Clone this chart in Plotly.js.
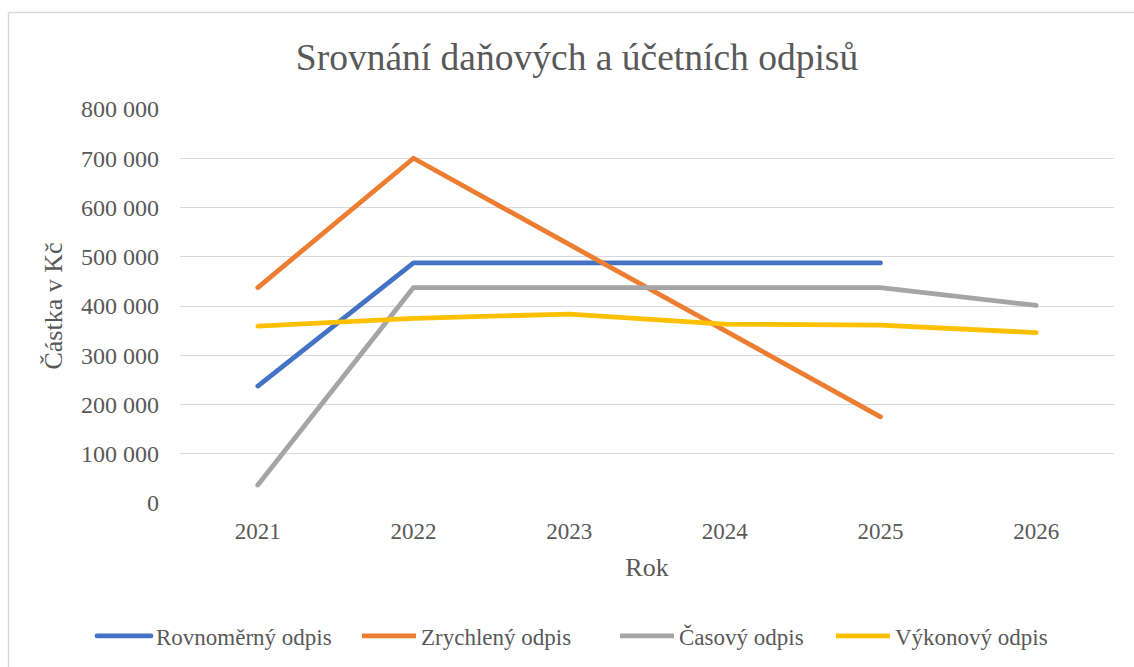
<!DOCTYPE html>
<html>
<head>
<meta charset="utf-8">
<script src="https://cdn.plot.ly/plotly-3.0.1.min.js"></script>
<style>
html,body{margin:0;padding:0;background:#fff;font-family:"Liberation Serif";}
#chart{width:1134px;height:667px;}
#chart .scatterlayer path.js-line, #chart .legend path.js-line{stroke-linecap:round !important;stroke-linejoin:round !important;}
</style>
</head>
<body>
<div id="chart"></div>
<script>
const years = ["2021", "2022", "2023", "2024", "2025", "2026"];
const rovnomerny = [237500, 487500, 487500, 487500, 487500, null];
const zrychleny = [437500, 700000, 525000, 350000, 175000, null];
const casovy = [36458, 437500, 437500, 437500, 437500, 401042];
const vykonovy = [359000, 375000, 383500, 363000, 361000, 346000];
const seriesNames = ["Rovnoměrný odpis", "Zrychlený odpis", "Časový odpis", "Výkonový odpis"];
const yTickVals = [0, 100000, 200000, 300000, 400000, 500000, 600000, 700000, 800000];
const yTickText = ["0", "100 000", "200 000", "300 000", "400 000", "500 000", "600 000", "700 000", "800 000"];

const colors = ["#4472C4", "#ED7D31", "#A5A5A5", "#FFC000"];
const allSeries = [rovnomerny, zrychleny, casovy, vykonovy];
const FONT = "Liberation Serif";
const TXT = "#595959";
const legendIds = ["legend", "legend2", "legend3", "legend4"];
const legendLeft = [98, 363, 621, 837];

function draw() {
  const traces = allSeries.map((s, i) => ({
    x: years, y: s, name: seriesNames[i], type: "scatter", mode: "lines",
    line: {color: colors[i], width: 4.8}, connectgaps: false, legend: legendIds[i]
  }));

  const L = 180, R = 1114, T = 109, B = 503;
  const pw = R - L, ph = B - T;

  const layout = {
    width: 1134, height: 667,
    margin: {l: L, r: 1134 - R, t: T, b: 667 - B},
    paper_bgcolor: "#fff", plot_bgcolor: "#fff",
    font: {family: FONT, color: TXT, size: 24},
    title: {text: "Srovnání daňových a účetních odpisů", font: {family: FONT, size: 37.5, color: TXT},
      xref: "container", x: 577/1134, xanchor: "center", yref: "container", y: 1 - 57/667, yanchor: "middle"},
    xaxis: {type: "category", range: [-0.5, 5.5], showgrid: false, zeroline: false, showline: false,
      ticks: "", tickfont: {size: 23, color: TXT, family: FONT}, ticklabelstandoff: 12,
      title: {text: "Rok", font: {size: 26, color: TXT, family: FONT}, standoff: 14}, fixedrange: true},
    yaxis: {range: [0, 800000], tickvals: yTickVals, ticktext: yTickText, showgrid: true,
      gridcolor: "#d9d9d9", gridwidth: 1.3, zeroline: false, showline: false, ticks: "",
      tickfont: {size: 24, color: TXT, family: FONT}, ticklabelstandoff: 20,
      title: {text: "Částka v Kč", font: {size: 26, color: TXT, family: FONT}, standoff: 10}, fixedrange: true},
    showlegend: true,
    shapes: [{type: "line", xref: "paper", yref: "paper", x0: (8.5 - L)/pw, x1: (1140 - L)/pw,
        y0: (B - 12.5)/ph, y1: (B - 12.5)/ph, line: {color: "#d9d9d9", width: 1.5}},
      {type: "line", xref: "paper", yref: "paper", x0: (8.5 - L)/pw, x1: (8.5 - L)/pw,
        y0: (B - 12.5)/ph, y1: (B - 680)/ph, line: {color: "#d9d9d9", width: 1.5}}]
  };

  legendIds.forEach((id, i) => {
    layout[id] = {orientation: "h", xref: "container", yref: "container",
      x: (legendLeft[i] - 6)/1134, xanchor: "left", y: 1 - 636/667, yanchor: "middle",
      font: {size: 23, color: TXT, family: FONT}, itemwidth: 54, bgcolor: "rgba(0,0,0,0)"};
  });

  Plotly.newPlot("chart", traces, layout, {displayModeBar: false});
}

if (document.fonts && document.fonts.load) {
  document.fonts.load('24px "Liberation Serif"').then(draw, draw);
} else {
  draw();
}
</script>
</body>
</html>
